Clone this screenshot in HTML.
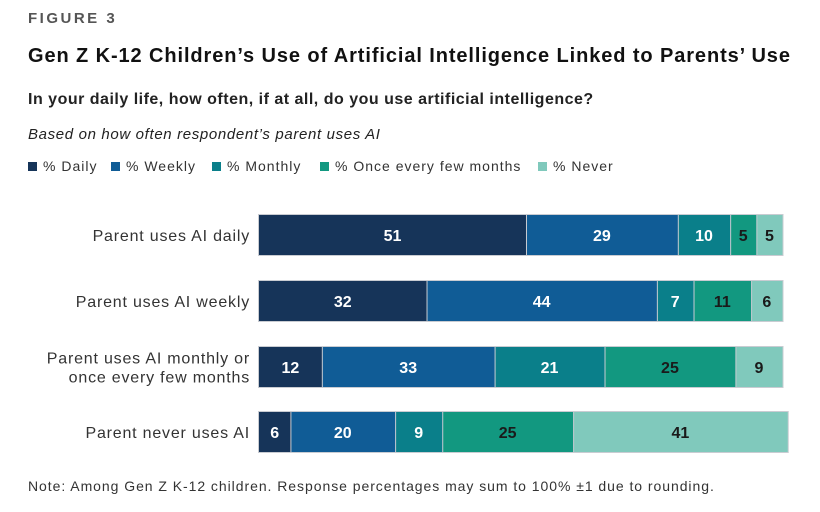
<!DOCTYPE html>
<html><head><meta charset="utf-8"><style>
body{margin:0;background:#fff;font-family:"Liberation Sans",sans-serif;}
#c{position:relative;width:820px;height:512px;overflow:hidden;}
.t{position:absolute;white-space:nowrap;color:#1a1a1a;}
</style></head><body>
<div id="c">
<div class="t" style="left:28px;top:10px;font-size:15px;font-weight:bold;letter-spacing:2.5px;color:#555;">FIGURE 3</div>
<div class="t" style="left:28px;top:45px;font-size:20px;font-weight:bold;letter-spacing:0.9px;color:#111;">Gen Z K-12 Children’s Use of Artificial Intelligence Linked to Parents’ Use</div>
<div class="t" style="left:28px;top:91px;font-size:16px;font-weight:bold;letter-spacing:0.5px;color:#222;">In your daily life, how often, if at all, do you use artificial intelligence?</div>
<div class="t" style="left:28px;top:126px;font-size:15px;font-style:italic;letter-spacing:0.65px;color:#222;">Based on how often respondent’s parent uses AI</div>
<div id="legend"></div>
<svg id="svg" width="820" height="512" style="position:absolute;left:0;top:0"></svg>
<div class="t" style="left:28px;top:478px;font-size:14px;letter-spacing:0.95px;color:#333;">Note: Among Gen Z K-12 children. Response percentages may sum to 100% ±1 due to rounding.</div>
</div>
<script>
const categories=["Parent uses AI daily","Parent uses AI weekly","Parent uses AI monthly or|once every few months","Parent never uses AI"];
const seriesNames=["% Daily","% Weekly","% Monthly","% Once every few months","% Never"];
const daily=[51,32,12,6];
const weekly=[29,44,33,20];
const monthly=[10,7,21,9];
const onceFew=[5,11,25,25];
const never=[5,6,9,41];
const series=[daily,weekly,monthly,onceFew,never];
const colors=["#163459","#105c96","#0a7f8a","#129880","#80c9bc"];
const textColors=["#fff","#fff","#fff","#1a1a1a","#1a1a1a"];
const x0=259,scale=5.235,rowTop=[215,281,347,412],barH=40;
const xs=v=>v*scale;
const NS="http://www.w3.org/2000/svg";
const svg=document.getElementById('svg');
const lg=document.getElementById('legend');
const legX=[28,111,212,320,538];
seriesNames.forEach((n,i)=>{
  const d=document.createElement('div');
  d.className='t';
  
  
  d.style.left=legX[i]+'px';d.style.top='158px';d.style.fontSize='14px';d.style.letterSpacing='1px';d.style.color='#333';
  d.innerHTML='<span style="display:inline-block;width:9px;height:9px;background:'+colors[i]+';margin-right:6px;vertical-align:0px"></span>'+n;
  lg.appendChild(d);
});
categories.forEach((cat,r)=>{
  const y=rowTop[r];
  const lines=cat.split('|');
  lines.forEach((ln,k)=>{
    const t=document.createElementNS(NS,'text');
    
    
    t.setAttribute('x',250);
    t.setAttribute('y',y+barH/2+6+(lines.length>1?(k-0.5)*19:0));
    t.setAttribute('text-anchor','end');
    t.setAttribute('font-size','16');t.setAttribute('fill','#333');
    t.setAttribute('letter-spacing','0.8');
    t.setAttribute('font-family','Liberation Sans, sans-serif');
    t.textContent=ln;svg.appendChild(t);
  });
  const bg=document.createElementNS(NS,'rect');
  let total=0;series.forEach(s=>total+=s[r]);
  
  
  bg.setAttribute('x',x0-1);bg.setAttribute('y',y-1);bg.setAttribute('width',xs(total)+2);bg.setAttribute('height',barH+2);bg.setAttribute('fill','#c9ccd2');
  svg.appendChild(bg);
  let acc=0;
  series.forEach((s,i)=>{
    const v=s[r];
    const rect=document.createElementNS(NS,'rect');
    
    
    rect.setAttribute('x',x0+xs(acc)+(acc>0?1:0));rect.setAttribute('y',y);
    rect.setAttribute('width',xs(v)-(acc>0?1:0));rect.setAttribute('height',barH);
    rect.setAttribute('fill',colors[i]);svg.appendChild(rect);
    const t=document.createElementNS(NS,'text');
    
    
    t.setAttribute('x',x0+xs(acc+v/2));t.setAttribute('y',y+barH/2+6);
    t.setAttribute('text-anchor','middle');t.setAttribute('font-size','16');t.setAttribute('font-weight','bold');
    t.setAttribute('font-family','Liberation Sans, sans-serif');
    t.setAttribute('fill',textColors[i]);t.textContent=v;svg.appendChild(t);
    acc+=v;
  });
});
</script>
</body></html>
